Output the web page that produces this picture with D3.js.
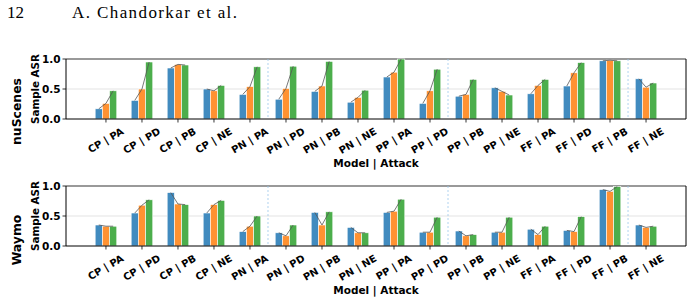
<!DOCTYPE html>
<html lang="en">
<head>
    <meta charset="UTF-8">
    <title>Sample ASR by model and attack</title>
    <style>
        body { margin: 0; background: #fff; }
        svg { display: block; }
    </style>
</head>
<body>
    <svg id="chart" width="693" height="305"></svg>

    <script src="https://d3js.org/d3.v7.min.js"></script>
    <script>
        // Model | Attack pairs along the x axis
        const categories = [
            "CP | PA", "CP | PD", "CP | PB", "CP | NE",
            "PN | PA", "PN | PD", "PN | PB", "PN | NE",
            "PP | PA", "PP | PD", "PP | PB", "PP | NE",
            "FF | PA", "FF | PD", "FF | PB", "FF | NE"
        ];

        // nuScenes, three series per category (blue, orange, green)
        const nuscenesA = [0.17, 0.31, 0.85, 0.50, 0.41, 0.33, 0.46, 0.28, 0.70, 0.26, 0.38, 0.52, 0.42, 0.55, 0.97, 0.67];
        const nuscenesB = [0.26, 0.50, 0.91, 0.47, 0.54, 0.51, 0.55, 0.36, 0.78, 0.47, 0.41, 0.46, 0.56, 0.77, 0.98, 0.53];
        const nuscenesC = [0.47, 0.95, 0.90, 0.56, 0.87, 0.88, 0.96, 0.48, 1.00, 0.83, 0.66, 0.40, 0.66, 0.94, 0.97, 0.60];

        // Waymo
        const waymoA = [0.35, 0.55, 0.89, 0.55, 0.24, 0.22, 0.56, 0.31, 0.56, 0.23, 0.25, 0.23, 0.28, 0.26, 0.94, 0.35];
        const waymoB = [0.33, 0.68, 0.70, 0.69, 0.33, 0.17, 0.35, 0.22, 0.58, 0.23, 0.17, 0.23, 0.19, 0.24, 0.91, 0.31];
        const waymoC = [0.33, 0.77, 0.69, 0.76, 0.50, 0.35, 0.57, 0.22, 0.78, 0.48, 0.19, 0.48, 0.33, 0.49, 0.99, 0.33];

        const yTicks = [0, 0.5, 1.0];
        const separators = [4.5, 9.5, 14.5];
        const seriesColors = ["#418bbf", "#ff9232", "#4cae4c"];

        const svg = d3.select("#chart");
        svg.append("rect").attr("width", 693).attr("height", 305).attr("fill", "#fff");

        // page header
        svg.append("text")
            .attr("x", 7).attr("y", 18)
            .attr("font-family", "'Liberation Serif', serif")
            .attr("font-size", "17px")
            .text("12");
        svg.append("text")
            .attr("x", 72).attr("y", 18)
            .attr("font-family", "'Liberation Serif', serif")
            .attr("font-size", "17px")
            .attr("textLength", 165)
            .attr("lengthAdjust", "spacing")
            .text("A. Chandorkar et al.");

        const left = 66, right = 686;
        const x = d3.scaleLinear().domain([-1.11, 16.11]).range([left, right]);
        const unit = x(1) - x(0);
        const barW = 0.2 * unit;

        const panels = [
            { name: "nuScenes", top: 59, bottom: 119, labelY: 111.5, series: [nuscenesA, nuscenesB, nuscenesC] },
            { name: "Waymo", top: 186, bottom: 246, labelY: 240, series: [waymoA, waymoB, waymoC] }
        ];

        const font = "'DejaVu Sans', sans-serif";

        panels.forEach(p => {
            const y = d3.scaleLinear().domain([0, 1]).range([p.bottom, p.top]);
            const g = svg.append("g");

            // grid lines
            g.selectAll(".grid")
                .data(yTicks.filter(t => t > 0))
                .enter()
                .append("line")
                .attr("x1", left).attr("x2", right)
                .attr("y1", d => y(d)).attr("y2", d => y(d))
                .attr("stroke", d => d === 1 ? "#777" : "#e3e3e3")
                .attr("stroke-width", d => d === 1 ? 1.6 : 1);

            // dashed separators
            g.selectAll(".sep")
                .data(separators)
                .enter()
                .append("line")
                .attr("x1", d => x(d)).attr("x2", d => x(d))
                .attr("y1", p.top).attr("y2", p.bottom)
                .attr("stroke", "#9cc8ec")
                .attr("stroke-width", 0.8)
                .attr("stroke-dasharray", "2,2");

            // bars
            p.series.forEach((vals, s) => {
                g.selectAll(".bar" + s)
                    .data(vals)
                    .enter()
                    .append("rect")
                    .attr("x", (d, i) => x(i + (s - 1) * 0.2) - barW / 2)
                    .attr("y", d => y(d))
                    .attr("width", barW)
                    .attr("height", d => y(0) - y(d))
                    .attr("fill", seriesColors[s])
                    .attr("stroke", "#fff")
                    .attr("stroke-width", 0.6);
            });

            // connecting lines across bar tops
            const line = d3.line().x(d => d[0]).y(d => d[1]);
            categories.forEach((c, i) => {
                const pts = p.series.map((vals, s) => [x(i + (s - 1) * 0.2), y(vals[i])]);
                g.append("path")
                    .attr("d", line(pts))
                    .attr("fill", "none")
                    .attr("stroke", "#555")
                    .attr("stroke-width", 0.8);
            });

            // frame
            g.append("line").attr("x1", left).attr("x2", left).attr("y1", p.top).attr("y2", p.bottom)
                .attr("stroke", "#000").attr("stroke-width", 1);
            g.append("line").attr("x1", right).attr("x2", right).attr("y1", p.top).attr("y2", p.bottom)
                .attr("stroke", "#000").attr("stroke-width", 1);
            g.append("line").attr("x1", left).attr("x2", right).attr("y1", p.bottom).attr("y2", p.bottom)
                .attr("stroke", "#000").attr("stroke-width", 1);

            // y axis ticks and labels
            g.selectAll(".ytick")
                .data(yTicks)
                .enter()
                .append("line")
                .attr("x1", left - 3.5).attr("x2", left)
                .attr("y1", d => y(d)).attr("y2", d => y(d))
                .attr("stroke", "#000").attr("stroke-width", 0.8);
            g.selectAll(".ylab")
                .data(yTicks)
                .enter()
                .append("text")
                .attr("x", left - 5.5)
                .attr("y", d => y(d))
                .attr("dy", "0.36em")
                .attr("text-anchor", "end")
                .attr("font-family", font)
                .attr("font-weight", "bold")
                .attr("font-size", "10.5px")
                .text(d => d3.format(".1f")(d));

            // x ticks and rotated labels
            g.selectAll(".xtick")
                .data(categories)
                .enter()
                .append("line")
                .attr("x1", (d, i) => x(i)).attr("x2", (d, i) => x(i))
                .attr("y1", p.bottom).attr("y2", p.bottom + 3.5)
                .attr("stroke", "#000").attr("stroke-width", 0.8);
            g.selectAll(".xlab")
                .data(categories)
                .enter()
                .append("text")
                .attr("text-anchor", "middle")
                .attr("font-family", font)
                .attr("font-weight", "bold")
                .attr("font-size", "10px")
                .text(d => d)
                .each(function(d, i) {
                    const w = this.getComputedTextLength();
                    const h = 10;
                    const bh = w * 0.5 + h * 0.866;
                    const cx = x(i), cy = p.bottom + 7.5 + bh / 2;
                    d3.select(this)
                        .attr("x", 0).attr("y", 0)
                        .attr("dy", "0.3em")
                        .attr("transform", `translate(${cx},${cy}) rotate(-30)`);
                });

            // axis titles
            g.append("text")
                .attr("transform", `translate(${(left + right) / 2},${p.bottom + 48})`)
                .attr("text-anchor", "middle")
                .attr("font-family", font)
                .attr("font-weight", "bold")
                .attr("font-size", "10.5px")
                .text("Model | Attack");
            g.append("text")
                .attr("transform", `translate(39,${(p.top + p.bottom) / 2}) rotate(-90)`)
                .attr("text-anchor", "middle")
                .attr("font-family", font)
                .attr("font-weight", "bold")
                .attr("font-size", "10.3px")
                .text("Sample ASR");
            g.append("text")
                .attr("transform", `translate(21,${p.labelY}) rotate(-90)`)
                .attr("text-anchor", "middle")
                .attr("font-family", font)
                .attr("font-weight", "bold")
                .attr("font-size", "12.4px")
                .text(p.name);
        });
    </script>
</body>
</html>
